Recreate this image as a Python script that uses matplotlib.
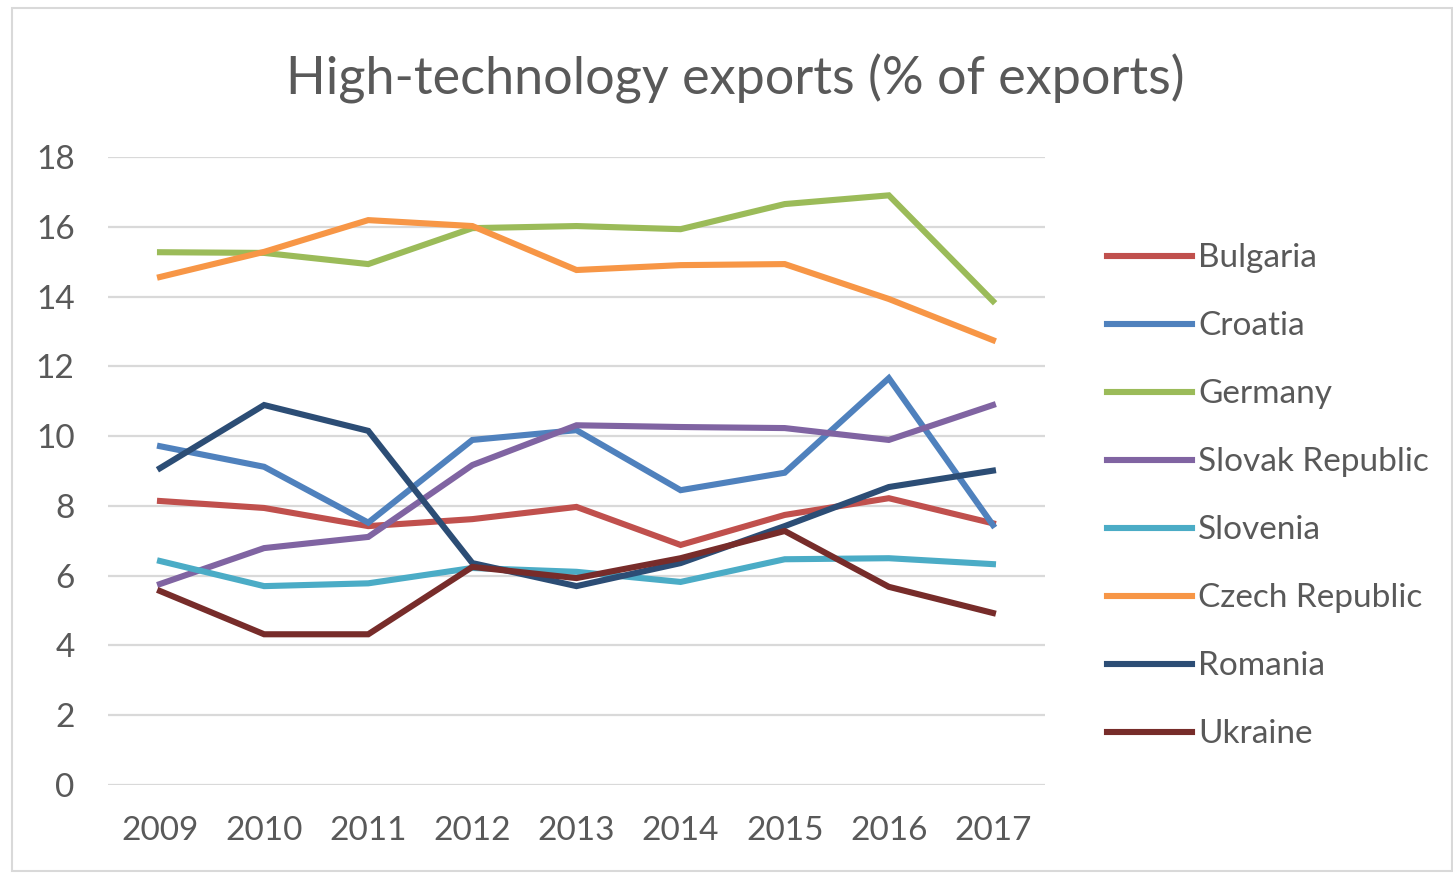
import matplotlib
matplotlib.use("Agg")
from matplotlib import pyplot as plt
from matplotlib.patches import Rectangle

years = ["2009", "2010", "2011", "2012", "2013", "2014", "2015", "2016", "2017"]

bulgaria = [8.14, 7.94, 7.42, 7.62, 7.97, 6.88, 7.74, 8.22, 7.50]
croatia = [9.71, 9.12, 7.52, 9.89, 10.17, 8.45, 8.95, 11.66, 7.45]
germany = [15.27, 15.25, 14.93, 15.96, 16.02, 15.93, 16.65, 16.90, 13.87]
slovak = [5.76, 6.79, 7.11, 9.17, 10.31, 10.26, 10.23, 9.89, 10.89]
slovenia = [6.42, 5.70, 5.78, 6.22, 6.11, 5.82, 6.47, 6.50, 6.33]
czech = [14.56, 15.28, 16.19, 16.02, 14.76, 14.90, 14.93, 13.93, 12.75]
romania = [9.08, 10.89, 10.15, 6.36, 5.70, 6.36, 7.42, 8.54, 9.01]
ukraine = [5.56, 4.32, 4.32, 6.25, 5.93, 6.50, 7.28, 5.68, 4.93]

series = [
    ("Bulgaria", bulgaria, "#C0504D"),
    ("Croatia", croatia, "#4F81BD"),
    ("Germany", germany, "#9BBB59"),
    ("Slovak Republic", slovak, "#8064A2"),
    ("Slovenia", slovenia, "#4BACC6"),
    ("Czech Republic", czech, "#F79646"),
    ("Romania", romania, "#2C4D75"),
    ("Ukraine", ukraine, "#772C2A"),
]

plt.rcParams['font.family'] = ['Lato', 'DejaVu Sans']
txt = "#595959"

fig = plt.figure(figsize=(14.53, 8.73), dpi=100)
ax = fig.add_axes([0.0743, 0.1008, 0.6449, 0.7194])

x = range(len(years))
for name, vals, col in series:
    ax.plot(x, vals, color=col, lw=4.4, label=name, solid_joinstyle='miter')

ax.set_xlim(-0.5, len(years) - 0.5)
ax.set_ylim(0, 18)
ax.set_yticks(range(0, 19, 2))
ax.set_xticks(list(x))
ax.set_xticklabels(years)
ax.grid(axis='y', color='#D9D9D9', lw=1.6)
ax.set_axisbelow(True)
for s in ax.spines.values():
    s.set_visible(False)
ax.tick_params(length=0, labelsize=24, colors=txt)
ax.tick_params(axis='x', pad=22)
ax.tick_params(axis='y', pad=24)

fig.text(0.506, 0.91, "High-technology exports (% of exports)",
         ha='center', va='center', fontsize=37.5, color=txt)

leg = ax.legend(loc='upper left', bbox_to_anchor=(1.052, 0.8836), frameon=False,
                fontsize=24, handlelength=2.55, handletextpad=0.18,
                labelspacing=1.14, borderaxespad=0)
for t in leg.get_texts():
    t.set_color(txt)

fig.patches.append(Rectangle((12 / 1453, 0.002), 1 - 12 / 1453 - 0.001, 1 - 8 / 873 - 0.002,
                             transform=fig.transFigure, fill=False,
                             edgecolor='#D9D9D9', lw=1.5))

fig.savefig("out.png", dpi=100)
